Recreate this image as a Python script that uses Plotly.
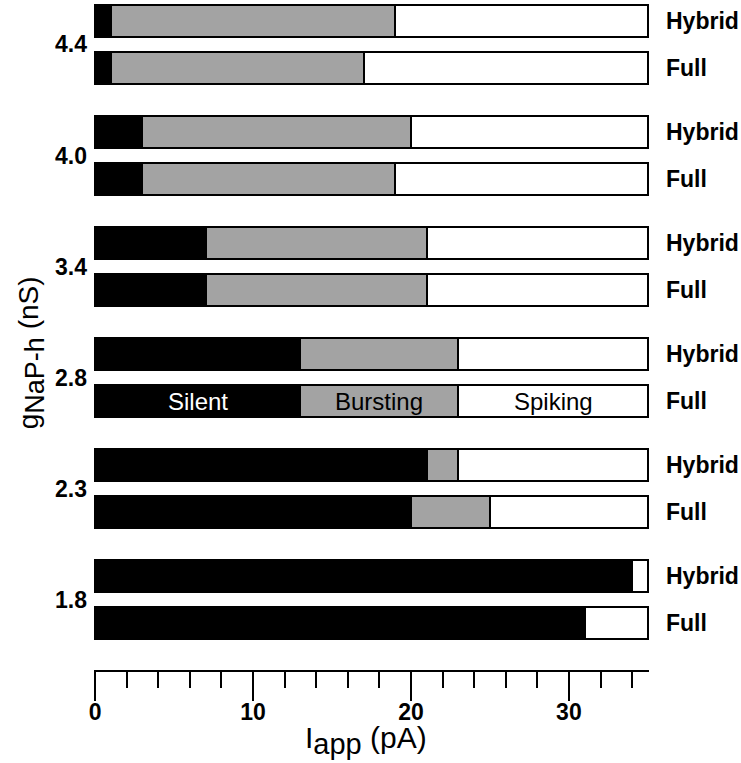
import plotly.graph_objects as go

# Neuron activity regimes versus applied current, for two model variants
gnap = ["1.8", "2.3", "2.8", "3.4", "4.0", "4.4"]          # g_NaP-h (nS)
models = ["Full", "Hybrid"]
states = ["Silent", "Bursting", "Spiking"]

# widths (pA) of each regime along I_app, one entry per g_NaP-h value
silent_full = [31, 20, 13, 7, 3, 1]
bursting_full = [0, 5, 10, 14, 16, 16]
spiking_full = [4, 10, 12, 14, 16, 18]

silent_hybrid = [34, 21, 13, 7, 3, 1]
bursting_hybrid = [0, 2, 10, 14, 17, 18]
spiking_hybrid = [1, 12, 12, 14, 15, 16]

x_ticks = [0, 10, 20, 30]

FONT = "Liberation Sans, Arial, Helvetica, sans-serif"
GROUP_STEP = 2.337   # vertical distance between g_NaP-h groups (bar-pair units)
BAR_W = 0.68
GRAY = "#a3a3a3"

# vertical position of each bar: Full below, Hybrid above, within each group
y_full = [i * GROUP_STEP for i in range(len(gnap))]
y_hybrid = [y + 1 for y in y_full]
y_pos = y_full + y_hybrid
y_labels = [models[0]] * len(gnap) + [models[1]] * len(gnap)

widths = {
    "Silent": silent_full + silent_hybrid,
    "Bursting": bursting_full + bursting_hybrid,
    "Spiking": spiking_full + spiking_hybrid,
}
fills = {"Silent": "black", "Bursting": GRAY, "Spiking": "white"}
text_colors = {"Silent": "white", "Bursting": "black", "Spiking": "black"}

fig = go.Figure()
for s in states:
    fig.add_trace(go.Bar(
        x=widths[s], y=y_pos, orientation="h", width=BAR_W,
        marker=dict(color=fills[s], line=dict(color="black", width=2)),
        name=s, showlegend=False, hoverinfo="skip",
    ))

# regime names written inside the Full bar of the 2.8 nS group
row = gnap.index("2.8")
start = 0
for s in states:
    w = widths[s][row]
    fig.add_annotation(
        x=start + w / 2, y=y_full[row], xref="x", yref="y", text=s,
        showarrow=False, xanchor="center", yanchor="middle",
        font=dict(family=FONT, size=24, color=text_colors[s]),
    )
    start += w

# model names to the right of each bar
for y, m in zip(y_pos, y_labels):
    fig.add_annotation(
        x=1, xref="paper", y=y, yref="y", text="<b>%s</b>" % m,
        showarrow=False, xanchor="left", yanchor="middle", xshift=15,
        font=dict(family=FONT, size=23, color="black"),
    )


def titled(main, subscript, unit, size):
    return "%s<sub><span style='font-size:%dpx'>%s</span></sub> %s" % (
        main, size - 1, subscript, unit)


# y-axis title
fig.add_annotation(
    x=-0.112, xref="paper", y=0.474, yref="paper",
    text=titled("g", "NaP-h", "(nS)", 28), textangle=-90, showarrow=False,
    xanchor="center", yanchor="middle",
    font=dict(family=FONT, size=28, color="black"),
)

# x-axis title
fig.add_annotation(
    x=0.49, xref="paper", y=-0.073, yref="paper",
    text=titled("I", "app", "(pA)", 30), showarrow=False,
    xanchor="center", yanchor="top",
    font=dict(family=FONT, size=30, color="black"),
)

fig.update_layout(
    width=741, height=763,
    margin=dict(l=94, r=92, t=0, b=93),
    barmode="stack", bargap=0,
    plot_bgcolor="white", paper_bgcolor="white",
    font=dict(family=FONT, color="black"),
    xaxis=dict(
        range=[-0.07, 35.07], showgrid=False, zeroline=False,
        showline=True, linecolor="black", linewidth=2,
        tickvals=x_ticks, ticktext=["<b>%d</b>" % v for v in x_ticks],
        ticks="outside", ticklen=29, tickwidth=2, tickcolor="black",
        ticklabelstandoff=-9,
        tickfont=dict(family=FONT, size=23, color="black"),
        minor=dict(dtick=2, tick0=0, ticks="outside", ticklen=16,
                   tickwidth=2, tickcolor="black", showgrid=False),
        fixedrange=True,
    ),
    yaxis=dict(
        range=[-0.983, 13.12], showgrid=False, zeroline=False,
        showline=False,
        tickvals=[y + 0.5 for y in y_full],
        ticktext=["<b>%s</b>" % g for g in gnap],
        ticks="", ticklabelstandoff=6,
        tickfont=dict(family=FONT, size=23, color="black"),
        fixedrange=True,
    ),
)

fig.write_html("out.html")
